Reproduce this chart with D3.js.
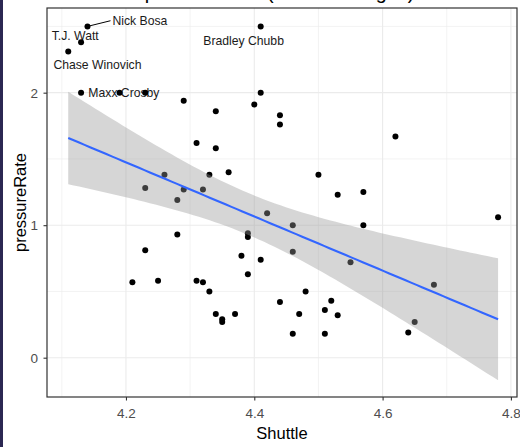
<!DOCTYPE html>
<html>
<head>
<meta charset="utf-8">
<script src="https://cdn.jsdelivr.net/npm/d3@7"></script>
<style>
  body { margin: 0; background: #fff; }
  svg { display: block; }
  text { font-family: "Liberation Sans", Arial, Helvetica, sans-serif; }
</style>
</head>
<body>
<svg id="chart" width="520" height="447"></svg>
<script>
// ---- data: shuttle time (s) vs pressure rate, one entry per player ----
const shuttle = [
  4.14, 4.13, 4.11, 4.41, 4.13, 4.19, 4.23, 4.41, 4.29, 4.40,
  4.34, 4.44, 4.44, 4.34, 4.62, 4.31, 4.33, 4.36, 4.50, 4.32,
  4.53, 4.57, 4.78, 4.42, 4.46, 4.57, 4.39, 4.39, 4.46, 4.38,
  4.41, 4.39, 4.55, 4.68, 4.32, 4.33, 4.44, 4.48, 4.52, 4.51,
  4.53, 4.47, 4.34, 4.35, 4.35, 4.37, 4.46, 4.51, 4.64, 4.65,
  4.26, 4.23, 4.29, 4.28, 4.28, 4.23, 4.21, 4.25, 4.31
];
const pressureRate = [
  2.50, 2.38, 2.31, 2.50, 2.00, 2.00, 2.00, 2.00, 1.94, 1.91,
  1.86, 1.83, 1.76, 1.58, 1.67, 1.62, 1.38, 1.40, 1.38, 1.27,
  1.23, 1.25, 1.06, 1.09, 1.00, 1.00, 0.94, 0.91, 0.80, 0.77,
  0.74, 0.63, 0.72, 0.55, 0.57, 0.50, 0.42, 0.50, 0.43, 0.36,
  0.32, 0.33, 0.33, 0.29, 0.27, 0.33, 0.18, 0.18, 0.19, 0.27,
  1.38, 1.28, 1.27, 1.19, 0.93, 0.81, 0.57, 0.58, 0.58
];

// named players
const labelNames   = ["Nick Bosa", "T.J. Watt", "Chase Winovich", "Bradley Chubb", "Maxx Crosby"];
const labelShuttle = [4.14, 4.13, 4.11, 4.41, 4.13];
const labelRate    = [2.50, 2.38, 2.31, 2.50, 2.00];

// axis ticks and grid
const xTicks = [4.2, 4.4, 4.6, 4.8];
const xMinor = [4.1, 4.3, 4.5, 4.7];
const yTicks = [0, 1, 2];
const yMinor = [0.5, 1.5, 2.5];

const titleText = "Shuttle vs. pressure rate (2018-19 Edges)";
const xTitle = "Shuttle";
const yTitle = "pressureRate";

// ---- layout ----
const W = 520, H = 447;
const panel = { left: 47, right: 517, top: 8, bottom: 397 };
// label placement (offsets from the point, px) as the repel layout left them
const labelNudge = [
  { dx: 25,    dy: -1.7, seg: true },
  { dx: -29.3, dy: -2.7 },
  { dx: -14.8, dy: 17.3 },
  { dx: -57.4, dy: 18.3 },
  { dx: 7.3,   dy: 4.3 }
];

const svg = d3.select("#chart");

const x = d3.scaleLinear().domain([4.0769, 4.8095]).range([panel.left, panel.right]);
const y = d3.scaleLinear().domain([-0.2966, 2.639]).range([panel.bottom, panel.top]);

// frame strip on the left edge
svg.append("rect").attr("x", 0).attr("y", 0).attr("width", 3).attr("height", H).attr("fill", "#2b2752");

// title (sits above the top of the canvas)
svg.append("text")
  .attr("x", panel.left).attr("y", -1.5)
  .attr("font-size", 19.8).attr("fill", "#000")
  .text(titleText);

// panel background
svg.append("rect")
  .attr("x", panel.left).attr("y", panel.top)
  .attr("width", panel.right - panel.left).attr("height", panel.bottom - panel.top)
  .attr("fill", "#fff");

const grid = svg.append("g");
grid.selectAll(".xminor").data(xMinor).join("line")
  .attr("x1", d => x(d)).attr("x2", d => x(d))
  .attr("y1", panel.top).attr("y2", panel.bottom)
  .attr("stroke", "#EBEBEB").attr("stroke-width", 0.6);
grid.selectAll(".yminor").data(yMinor).join("line")
  .attr("y1", d => y(d)).attr("y2", d => y(d))
  .attr("x1", panel.left).attr("x2", panel.right)
  .attr("stroke", "#EBEBEB").attr("stroke-width", 0.6);
grid.selectAll(".xmajor").data(xTicks).join("line")
  .attr("x1", d => x(d)).attr("x2", d => x(d))
  .attr("y1", panel.top).attr("y2", panel.bottom)
  .attr("stroke", "#EBEBEB").attr("stroke-width", 1.1);
grid.selectAll(".ymajor").data(yTicks).join("line")
  .attr("y1", d => y(d)).attr("y2", d => y(d))
  .attr("x1", panel.left).attr("x2", panel.right)
  .attr("stroke", "#EBEBEB").attr("stroke-width", 1.1);

// clip for panel content
svg.append("clipPath").attr("id", "panelClip")
  .append("rect")
  .attr("x", panel.left).attr("y", panel.top)
  .attr("width", panel.right - panel.left).attr("height", panel.bottom - panel.top);

const plot = svg.append("g").attr("clip-path", "url(#panelClip)");

// labels (under the points)
const labels = labelNames.map((name, i) => ({
  name, sx: labelShuttle[i], pr: labelRate[i], ...labelNudge[i]
}));
plot.selectAll(".seg").data(labels.filter(d => d.seg)).join("line")
  .attr("x1", d => x(d.sx)).attr("y1", d => y(d.pr))
  .attr("x2", d => x(d.sx) + d.dx - 2).attr("y2", d => y(d.pr) + d.dy - 4)
  .attr("stroke", "#000").attr("stroke-width", 1);
plot.selectAll(".lab").data(labels).join("text")
  .attr("x", d => x(d.sx) + d.dx).attr("y", d => y(d.pr) + d.dy)
  .attr("font-size", 12.2).attr("fill", "#1a1a1a")
  .text(d => d.name);

// points
const pts = shuttle.map((s, i) => ({ s, p: pressureRate[i] }));
plot.selectAll(".pt").data(pts).join("circle")
  .attr("cx", d => x(d.s)).attr("cy", d => y(d.p))
  .attr("r", 3).attr("fill", "#000");

// linear fit with 95% confidence band
const n = pts.length;
const xbar = d3.mean(shuttle), ybar = d3.mean(pressureRate);
let sxx = 0, sxy = 0;
pts.forEach(d => { sxx += (d.s - xbar) ** 2; sxy += (d.s - xbar) * (d.p - ybar); });
const slope = sxy / sxx, intercept = ybar - slope * xbar;
let sse = 0;
pts.forEach(d => { sse += (d.p - (intercept + slope * d.s)) ** 2; });
const sigma = Math.sqrt(sse / (n - 2));
const tCrit = 2.0025; // t(0.975, df = 57)
const [xmin, xmax] = d3.extent(shuttle);
const fit = d3.range(80).map(k => {
  const xv = xmin + (xmax - xmin) * k / 79;
  const fv = intercept + slope * xv;
  const se = sigma * Math.sqrt(1 / n + (xv - xbar) ** 2 / sxx);
  return { xv, fv, lo: fv - tCrit * se, hi: fv + tCrit * se };
});

plot.append("path").datum(fit)
  .attr("d", d3.area().x(d => x(d.xv)).y0(d => y(d.lo)).y1(d => y(d.hi)))
  .attr("fill", "#999999").attr("fill-opacity", 0.4);
plot.append("path").datum(fit)
  .attr("d", d3.line().x(d => x(d.xv)).y(d => y(d.fv)))
  .attr("fill", "none").attr("stroke", "#3366FF").attr("stroke-width", 2.1);

// panel border
svg.append("rect")
  .attr("x", panel.left).attr("y", panel.top)
  .attr("width", panel.right - panel.left).attr("height", panel.bottom - panel.top)
  .attr("fill", "none").attr("stroke", "#333333").attr("stroke-width", 1.2);

// axes
const xAxis = svg.append("g").attr("transform", `translate(0,${panel.bottom})`)
  .call(d3.axisBottom(x).tickValues(xTicks).tickSize(3.5).tickPadding(8).tickFormat(d3.format(".1f")));
const yAxis = svg.append("g").attr("transform", `translate(${panel.left},0)`)
  .call(d3.axisLeft(y).tickValues(yTicks).tickSize(3.5).tickPadding(5.5).tickFormat(d3.format("d")));
[xAxis, yAxis].forEach(g => {
  g.select(".domain").remove();
  g.selectAll(".tick line").attr("stroke", "#333333").attr("stroke-width", 1.1);
  g.selectAll(".tick text")
    .attr("fill", "#4D4D4D").attr("font-size", 13.5)
    .attr("font-family", "'Liberation Sans', Arial, sans-serif");
});

// axis titles
svg.append("text")
  .attr("x", (panel.left + panel.right) / 2).attr("y", 439)
  .attr("text-anchor", "middle").attr("font-size", 16.5).attr("fill", "#000")
  .text(xTitle);
svg.append("text")
  .attr("transform", `translate(26,${(panel.top + panel.bottom) / 2}) rotate(-90)`)
  .attr("text-anchor", "middle").attr("font-size", 16.5).attr("fill", "#000")
  .text(yTitle);
</script>
</body>
</html>
